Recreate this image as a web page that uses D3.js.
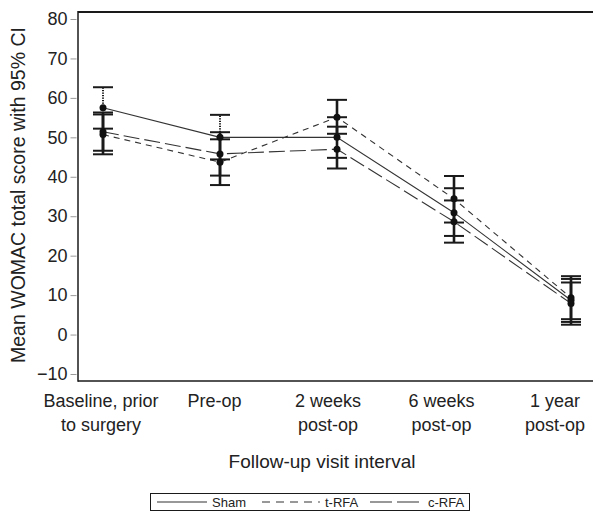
<!DOCTYPE html>
<html>
<head>
<meta charset="utf-8">
<script src="https://d3js.org/d3.v7.min.js"></script>
<style>
    body { margin: 0; background: white; }
    svg { display: block; font-family: "Liberation Sans", Arial, Helvetica, sans-serif; }
</style>
</head>
<body>
<div id="chartDiv"></div>
<script>
// Visit intervals and their axis labels (one entry per line)
const visits = ["Baseline", "Pre-op", "2 weeks", "6 weeks", "1 year"]
const visitLabels = [["Baseline, prior", "to surgery"], ["Pre-op"], ["2 weeks", "post-op"], ["6 weeks", "post-op"], ["1 year", "post-op"]]

// Mean WOMAC total score and 95% CI per group
const shamMean = [57.5, 50.0, 50.0, 30.9, 8.7]
const shamLo   = [52.2, 44.4, 44.8, 25.0, 3.2]
const shamHi   = [62.7, 55.7, 55.1, 37.1, 14.1]

const tMean = [50.7, 43.7, 55.1, 34.4, 9.3]
const tLo   = [45.7, 37.9, 50.9, 28.4, 3.9]
const tHi   = [55.8, 49.5, 59.5, 40.2, 14.8]

const cMean = [51.4, 45.8, 47.0, 28.6, 7.9]
const cLo   = [46.6, 40.3, 42.1, 23.3, 2.5]
const cHi   = [56.3, 51.3, 52.7, 34.0, 13.2]

const groupNames = ["Sham", "t-RFA", "c-RFA"]
const yTicks = [-10, 0, 10, 20, 30, 40, 50, 60, 70, 80]

// build series from the arrays
const series = [
    {name: groupNames[0], mean: shamMean, lo: shamLo, hi: shamHi, dash: null, barDash: "1.2,1.3"},
    {name: groupNames[1], mean: tMean, lo: tLo, hi: tHi, dash: "6,5", barDash: null},
    {name: groupNames[2], mean: cMean, lo: cLo, hi: cHi, dash: "16,5", barDash: null}
]

const w = 593
const h = 511
const frame = {left: 78, top: 12, right: 600, bottom: 381}

const svg = d3.select("#chartDiv")
    .append("svg")
    .attr("width", w)
    .attr("height", h)

// Scales
const x = d3.scalePoint().domain(visits).range([103, 571])
const xLabel = d3.scalePoint().domain(visits).range([101, 555])
const y = d3.scaleLinear().domain([-10, 80]).range([374, 19])

const ink = "#1a1a1a"

// Frame (top, left, bottom; right side runs off the picture)
svg.append("line")
    .attr("x1", frame.left).attr("x2", frame.right)
    .attr("y1", frame.top).attr("y2", frame.top)
    .style("stroke", ink).style("stroke-width", 2)
svg.append("line")
    .attr("x1", frame.left).attr("x2", frame.left)
    .attr("y1", frame.top - 1).attr("y2", frame.bottom + 0.75)
    .style("stroke", ink).style("stroke-width", 1.5)
svg.append("line")
    .attr("x1", frame.left).attr("x2", frame.right)
    .attr("y1", frame.bottom).attr("y2", frame.bottom)
    .style("stroke", ink).style("stroke-width", 1.5)

// Y axis ticks, offset slightly from the frame
const yAxis = d3.axisLeft(y)
    .tickValues(yTicks)
    .tickSize(6)
    .tickPadding(3)
    .tickFormat(d3.format("d"))
const yg = svg.append("g")
    .attr("transform", "translate(" + (frame.left - 1.5) + ",0)")
    .call(yAxis)
yg.select(".domain").remove()
yg.selectAll(".tick line").style("stroke", "#999").style("stroke-width", 1)
yg.selectAll(".tick text")
    .style("font-size", "18px")
    .style("fill", "#222")
    .style("font-family", "inherit")

// X labels (multi-line)
const xg = svg.append("g")
xg.selectAll("text")
    .data(visits)
    .enter()
    .append("text")
    .attr("x", d => xLabel(d))
    .attr("y", 407)
    .attr("text-anchor", "middle")
    .style("font-size", "18px")
    .style("fill", "#222")
    .each(function(d, i) {
        d3.select(this).selectAll("tspan")
            .data(visitLabels[i])
            .enter()
            .append("tspan")
            .attr("x", xLabel(d))
            .attr("dy", (t, j) => j === 0 ? 0 : 24)
            .text(t => t)
    })

// Axis titles
svg.append("text")
    .attr("x", 322)
    .attr("y", 468)
    .attr("text-anchor", "middle")
    .style("font-size", "19px")
    .style("fill", "#222")
    .text("Follow-up visit interval")

svg.append("text")
    .attr("transform", "translate(25," + 195 + ") rotate(-90)")
    .attr("text-anchor", "middle")
    .style("font-size", "19.5px")
    .style("fill", "#222")
    .text("Mean WOMAC total score with 95% CI")

// Lines connecting the means
const line = d3.line()
    .x((d, i) => x(visits[i]))
    .y(d => y(d))

svg.append("g").selectAll("path")
    .data(series)
    .enter()
    .append("path")
    .attr("d", d => line(d.mean))
    .style("fill", "none")
    .style("stroke", "#333")
    .style("stroke-width", 1.1)
    .style("stroke-dasharray", d => d.dash)

// Error bars (vertical + caps), sham first so others sit on top
const capHalf = 10
series.forEach(s => {
    const g = svg.append("g")
    g.selectAll("line.bar")
        .data(visits)
        .enter()
        .append("line")
        .attr("class", "bar")
        .attr("x1", d => x(d)).attr("x2", d => x(d))
        .attr("y1", (d, i) => y(s.lo[i]))
        .attr("y2", (d, i) => y(s.hi[i]))
        .style("stroke", ink)
        .style("stroke-width", s.barDash ? 2 : 2.6)
        .style("stroke-dasharray", s.barDash)
    ;[s.lo, s.hi].forEach(vals => {
        g.selectAll(null)
            .data(visits)
            .enter()
            .append("line")
            .attr("x1", d => x(d) - capHalf).attr("x2", d => x(d) + capHalf)
            .attr("y1", (d, i) => y(vals[i]))
            .attr("y2", (d, i) => y(vals[i]))
            .style("stroke", ink)
            .style("stroke-width", 2)
    })
})

// Mean points
series.forEach(s => {
    svg.append("g").selectAll("circle")
        .data(s.mean)
        .enter()
        .append("circle")
        .attr("cx", (d, i) => x(visits[i]))
        .attr("cy", d => y(d))
        .attr("r", 3.5)
        .style("fill", "#111")
})

// Legend
const legend = svg.append("g")
legend.append("rect")
    .attr("x", 150.5).attr("y", 493.5)
    .attr("width", 319).attr("height", 17)
    .style("fill", "none")
    .style("stroke", ink)
    .style("stroke-width", 1)

const legendItems = [
    {x1: 157, x2: 207, tx: 212, dash: null, dot: false},
    {x1: 262, x2: 313, tx: 325, dash: "8,6", dot: true},
    {x1: 370, x2: 422, tx: 428, dash: "22,5", dot: false}
]
legendItems.forEach((it, i) => {
    legend.append("line")
        .attr("x1", it.x1).attr("x2", it.x2)
        .attr("y1", 502).attr("y2", 502)
        .style("stroke", "#333")
        .style("stroke-width", 1.2)
        .style("stroke-dasharray", it.dash)
    if (it.dot) {
        legend.append("circle")
            .attr("cx", it.x2 + 6).attr("cy", 502).attr("r", 0.8)
            .style("fill", "#333")
    }
    legend.append("text")
        .attr("x", it.tx)
        .attr("y", 507)
        .style("font-size", "13px")
        .style("fill", "#222")
        .text(groupNames[i])
})
</script>
</body>
</html>
